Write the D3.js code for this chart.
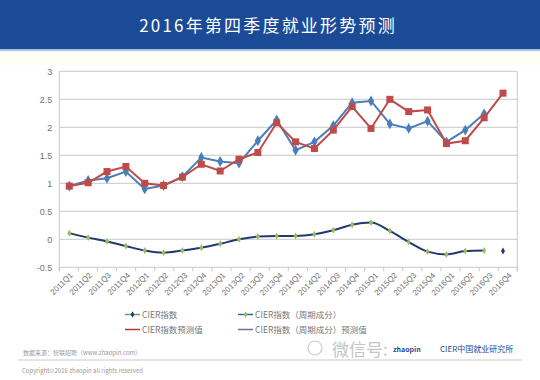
<!DOCTYPE html>
<html><head><meta charset="utf-8">
<script src="https://cdn.jsdelivr.net/npm/d3@7"></script>
<style>
body{margin:0;background:#fff}
svg{display:block;font-family:"Noto Sans CJK SC","Liberation Sans",sans-serif}
</style></head>
<body><svg id="c" width="540" height="380"></svg>
<script>
const title = "2016年第四季度就业形势预测";
const quarters = ["2011Q1","2011Q2","2011Q3","2011Q4","2012Q1","2012Q2","2012Q3","2012Q4",
  "2013Q1","2013Q2","2013Q3","2013Q4","2014Q1","2014Q2","2014Q3","2014Q4",
  "2015Q1","2015Q2","2015Q3","2015Q4","2016Q1","2016Q2","2016Q3","2016Q4"];
const cierIndex    = [0.95,1.05,1.09,1.21,0.90,0.96,1.12,1.46,1.39,1.36,1.76,2.13,1.59,1.74,2.03,2.44,2.47,2.06,1.98,2.11,1.74,1.95,2.24,null];
const cierForecast = [0.95,1.01,1.21,1.30,1.00,0.96,1.11,1.34,1.22,1.43,1.55,2.08,1.74,1.62,1.95,2.37,1.98,2.50,2.28,2.31,1.71,1.76,2.17,2.61];
const cycleComp    = [0.11,0.03,-0.04,-0.12,-0.20,-0.24,-0.20,-0.15,-0.08,0.00,0.05,0.06,0.06,0.09,0.16,0.26,0.30,0.15,-0.05,-0.22,-0.27,-0.21,-0.20,null];
const cycleForecast= [null,null,null,null,null,null,null,null,null,null,null,null,null,null,null,null,null,null,null,null,null,null,null,-0.21];
const yTicks = [-0.5,0,0.5,1,1.5,2,2.5,3];
const legendLabels = ["CIER指数","CIER指数（周期成分）","CIER指数预测值","CIER指数（周期成分）预测值"];

const svg = d3.select("#c");
// header
svg.append("rect").attr("x",0).attr("y",0).attr("width",540).attr("height",49).attr("fill","#1b4a96");
svg.append("rect").attr("x",0).attr("y",49).attr("width",540).attr("height",2).attr("fill","#a9c4e8");
svg.append("rect").attr("x",0).attr("y",51).attr("width",540).attr("height",14).attr("fill","#fffdf4");
svg.append("text").attr("x",268).attr("y",32).attr("text-anchor","middle")
  .attr("fill","#fff").attr("font-size",17).attr("letter-spacing",2.2).text(title);

const L=59.3, R=517.3, T=71.3, B=267.3;
const band = d3.scaleBand().domain(quarters).range([L,R]);
const x = d3.scalePoint().domain(quarters).range([69.3,503]);
const y = d3.scaleLinear().domain([-0.5,3]).range([B,T]);

// grid
const g = svg.append("g");
g.selectAll("line.grid").data(yTicks).join("line")
  .attr("x1",L).attr("x2",R).attr("y1",d=>y(d)).attr("y2",d=>y(d))
  .attr("stroke","#c9c9c9").attr("stroke-width",1);
g.append("line").attr("x1",L).attr("x2",L).attr("y1",T).attr("y2",B+4).attr("stroke","#c9c9c9");
g.append("line").attr("x1",R).attr("x2",R).attr("y1",T).attr("y2",B+4).attr("stroke","#c9c9c9");

// y axis labels
const yAxis = d3.axisLeft(y).tickValues(yTicks).tickSize(0).tickPadding(7).tickFormat(d=>String(d));
const ya = svg.append("g").attr("transform",`translate(${L},0)`).call(yAxis);
ya.select(".domain").remove();
ya.selectAll("text").attr("fill","#707070").attr("font-size",9).attr("font-family","Liberation Sans, sans-serif");

// x axis ticks at band edges
const edges = quarters.map(q=>band(q)).concat([R]);
svg.append("g").selectAll("line").data(edges).join("line")
  .attr("x1",d=>d).attr("x2",d=>d).attr("y1",B).attr("y2",B+4).attr("stroke","#c9c9c9");
svg.append("g").selectAll("text").data(quarters).join("text")
  .attr("transform",d=>`translate(${band(d)+band.bandwidth()/2+3},${B+7}) rotate(-45)`)
  .attr("text-anchor","end").attr("dominant-baseline","middle")
  .attr("fill","#707070").attr("font-size",8).attr("font-family","Liberation Sans, sans-serif").text(d=>d);

function series(vals){ return quarters.map((q,i)=>({q,v:vals[i]})).filter(d=>d.v!==null); }
const line = d3.line().x(d=>x(d.q)).y(d=>y(d.v));
const smooth = d3.line().x(d=>x(d.q)).y(d=>y(d.v)).curve(d3.curveMonotoneX);

// cyclical component
const cyc = series(cycleComp);
svg.append("path").attr("d",smooth(cyc)).attr("fill","none").attr("stroke","#1f3a73").attr("stroke-width",2);
svg.append("g").selectAll("path").data(cyc).join("path")
  .attr("d",d3.symbol(d3.symbolDiamond,14)).attr("transform",d=>`translate(${x(d.q)},${y(d.v)})`)
  .attr("fill","#9bbb59");
svg.append("g").selectAll("path").data(series(cycleForecast)).join("path")
  .attr("d",d3.symbol(d3.symbolDiamond,14)).attr("transform",d=>`translate(${x(d.q)},${y(d.v)})`)
  .attr("fill","#3b2f6b");

// CIER index (blue)
const ci = series(cierIndex);
svg.append("path").attr("d",line(ci)).attr("fill","none").attr("stroke","#4a7ebb").attr("stroke-width",2);
svg.append("g").selectAll("path").data(ci).join("path")
  .attr("d",d3.symbol(d3.symbolDiamond,34)).attr("transform",d=>`translate(${x(d.q)},${y(d.v)})`)
  .attr("fill","#4a7ebb");

// forecast (red)
const cf = series(cierForecast);
svg.append("path").attr("d",line(cf)).attr("fill","none").attr("stroke","#be4b48").attr("stroke-width",2);
svg.append("g").selectAll("rect").data(cf).join("rect")
  .attr("x",d=>x(d.q)-3.5).attr("y",d=>y(d.v)-3.5).attr("width",7).attr("height",7)
  .attr("fill","#be4b48");

// legend
const leg = svg.append("g").attr("font-size",8.5).attr("fill","#777");
const items = [
  {x:125,y:314.5,line:"#5a9e86",mark:"#1f3a73",t:legendLabels[0]},
  {x:238,y:314.5,line:"#3060b0",mark:"#9bbb59",t:legendLabels[1]},
  {x:125,y:329.5,line:"#c0302d",mark:null,t:legendLabels[2]},
  {x:238,y:329.5,line:"#8064a2",mark:null,t:legendLabels[3]}
];
items.forEach(it=>{
  leg.append("line").attr("x1",it.x).attr("x2",it.x+15).attr("y1",it.y).attr("y2",it.y).attr("stroke",it.line).attr("stroke-width",1.5);
  if(it.mark) leg.append("path").attr("d",d3.symbol(d3.symbolDiamond,12)).attr("transform",`translate(${it.x+7.5},${it.y})`).attr("fill",it.mark);
  leg.append("text").attr("x",it.x+17).attr("y",it.y+3.2).attr("fill","#777").text(it.t);
});

// footer
svg.append("text").attr("x",23).attr("y",355).attr("font-size",6).attr("fill","#999").text("数据来源：智联招聘（www.zhaopin.com）");
svg.append("line").attr("x1",18).attr("x2",522).attr("y1",360).attr("y2",360).attr("stroke","#ddd").attr("stroke-width",1.5);
svg.append("text").attr("x",22).attr("y",373).attr("font-size",6).attr("fill","#999").text("Copyright©2016 zhaopin all rights reserved");
svg.append("circle").attr("cx",315).attr("cy",348).attr("r",7).attr("fill","none").attr("stroke","#ccc").attr("stroke-width",1.2);
svg.append("text").attr("x",332).attr("y",356).attr("font-size",17).attr("fill","#c4c4c4").text("微信号:");
svg.append("text").attr("x",393).attr("y",352).attr("font-size",7).attr("fill","#1b4a96").attr("font-weight","bold").text("zhaopin");
svg.append("text").attr("x",440).attr("y",352).attr("font-size",8).attr("fill","#1b4a96").text("CIER中国就业研究所");
</script></body></html>
